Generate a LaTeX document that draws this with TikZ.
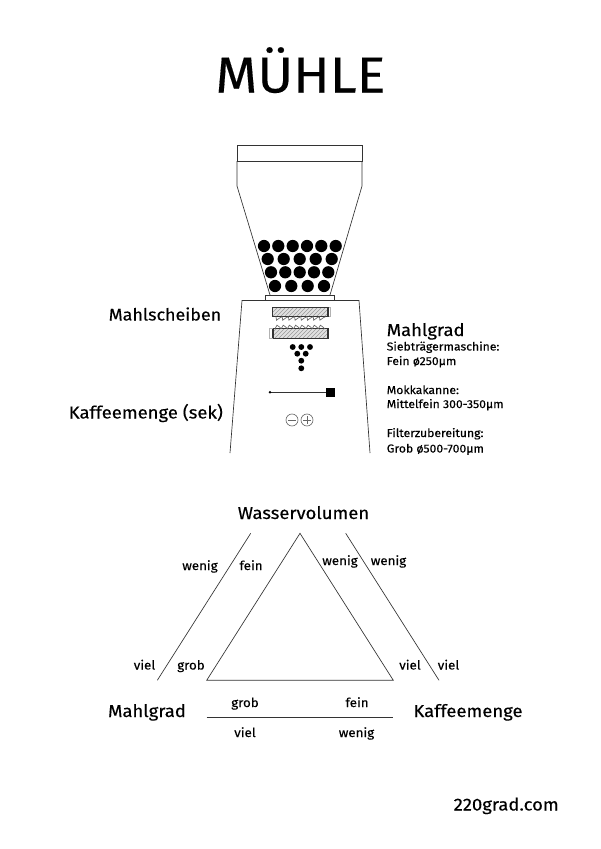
\documentclass[tikz,border=0pt]{standalone}
\usepackage{fontspec}
\setmainfont{Fira Sans}[FakeStretch=1.065,FakeBold=0.25]
\usetikzlibrary{patterns}
\newcommand{\fs}[1]{\fontsize{#1}{#1}\selectfont}
\tikzset{
 x=0.75pt,y=-0.75pt,
 ln/.style={draw=black!80,line width=0.5pt,line join=miter},
 bean/.style={fill=black,draw=none},
 title/.style={inner sep=0pt,anchor=base,font=\fs{38}},
 big/.style={inner sep=0pt,anchor=base,font=\fs{13}},
 small/.style={inner sep=0pt,anchor=base,font=\fs{9.4}},
 info/.style={inner sep=0pt,anchor=base west,font=\fs{8.6}},
 disc/.style={draw=black!80,line width=0.5pt,pattern=north east lines,pattern color=black!40},
}
\begin{document}
\begin{tikzpicture}
\useasboundingbox (0,0) rectangle (600,849);
\fill[white] (0,0) rectangle (600,849);
\node[title] (t) at (300.5,92.5) {MÜHLE};
% hopper
\draw[ln] (237,161) rectangle (362,145);
\draw[ln] (237,161) -- (237,186) -- (270,295);
\draw[ln] (362,161) -- (362,186) -- (330,295);
\draw[ln] (265.5,295) rectangle (334,300.5);
\draw[ln] (230,453) -- (242,300.5) -- (359,300.5) -- (370,453);
% beans
\foreach \x in {264,278.3,292.7,307,321.3,335.7} \fill[bean] (\x,246) circle[radius=4.6pt];
\foreach \x in {267.7,283.7,299.7,315.7,331.7} \fill[bean] (\x,259) circle[radius=4.6pt];
\foreach \x in {271,285.3,299.7,314,328.3} \fill[bean] (\x,272.3) circle[radius=4.6pt];
\foreach \x in {275,291.3,307.7,324} \fill[bean] (\x,286) circle[radius=4.6pt];
% discs
\fill[black!12] (272.3,307.3) rectangle (328,316.7) (273,328.7) rectangle (328,338.3);
\draw[disc] (272.3,307.3) rectangle (328,316.7);
\draw[black!30,line width=0.5pt] (328,307.3) -- (330,307.3) -- (330,316.7) -- (328,316.7);
\draw[black!80,line width=1pt] (272.3,307.3) -- (272.3,316.7) (328,307.3) -- (328,316.7);
\draw[disc] (273,328.7) rectangle (328,338.3);
\draw[black!30,line width=0.5pt] (273,328.7) -- (269.5,328.7) -- (269.5,338.3) -- (273,338.3);
\draw[black!80,line width=1pt] (273,328.7) -- (273,338.3) (327.5,328.7) -- (327.5,338.3);
\foreach \i in {0,...,7} {
 \draw[black!60,line width=0.5pt] ({276+6.2*\i},316.7) -- ({276.5+6.2*\i},320.2) -- ({279.5+6.2*\i},318) -- ({282.2+6.2*\i},316.7);
 \draw[black!60,line width=0.5pt] ({275+6.2*\i},328.7) -- ({277+6.2*\i},325.2) -- ({279.5+6.2*\i},327) -- ({281.2+6.2*\i},328.7);
}
% ground coffee
\foreach \p in {(292.7,347),(301.3,347),(310,347),(297.3,353.7),(305.7,353.7),(301.3,360.7),(301.3,368.3)} \fill[bean] \p circle[radius=2.2pt];
% slider
\draw[ln] (270,392.3) -- (326,392.3);
\fill[bean] (270,392.3) circle[radius=1pt];
\fill[bean] (326,388) rectangle (334.5,396.5);
% buttons
\draw[ln,draw=black!60] (292,420) circle[radius=4.5pt];
\draw[ln,draw=black!60] (307,420) circle[radius=4.5pt];
\draw[ln,draw=black!60] (288,420) -- (296,420);
\draw[ln,draw=black!60] (303,420) -- (311,420) (307,416) -- (307,424);
% labels
\node[big,anchor=base west,font=\fs{12.6}] (a) at (108.5,320.5) {Mahlscheiben};
\node[big,anchor=base west] (b) at (68.5,418.5) {Kaffeemenge (sek)};
\node[big,anchor=base west] (c) at (386.5,336) {Mahlgrad};
\node[info] (d1) at (386.5,350.5) {Siebträgermaschine:};
\node[info] (d2) at (386.5,365) {Fein ø250µm};
\node[info] (d3) at (386.5,394) {Mokkakanne:};
\node[info] (d4) at (386.5,408) {Mittelfein 300-350µm};
\node[info] (d5) at (386.5,437) {Filterzubereitung:};
\node[info] (d6) at (386.5,452.5) {Grob ø500-700µm};
% triangle
\node[big] (w) at (303.5,519) {Wasservolumen};
\draw[ln] (300,533.3) -- (393.3,680.3) -- (206.7,680.3) -- cycle;
\draw[ln] (250.7,533.3) -- (157.3,680.3);
\draw[ln] (345.7,533.3) -- (439,680.3);
\draw[ln] (206.7,717) -- (393.3,717);
\node[small] (n1) at (200,570) {wenig};
\node[small] (n2) at (251,570) {fein};
\node[small] (n3) at (340,565) {wenig};
\node[small] (n4) at (388.5,565) {wenig};
\node[small] (n5) at (144.5,669.5) {viel};
\node[small] (n6) at (191,669.5) {grob};
\node[small] (n7) at (410,669.5) {viel};
\node[small] (n8) at (448.5,669.5) {viel};
\node[small] (n9) at (245,707) {grob};
\node[small] (n10) at (357,707) {fein};
\node[small] (n11) at (245,737) {viel};
\node[small] (n12) at (356.5,737) {wenig};
\node[big] (m) at (147,717) {Mahlgrad};
\node[big] (k) at (468,717) {Kaffeemenge};
\node[big,anchor=base east] (u) at (559,810.5) {220grad.com};
\end{tikzpicture}
\end{document}
